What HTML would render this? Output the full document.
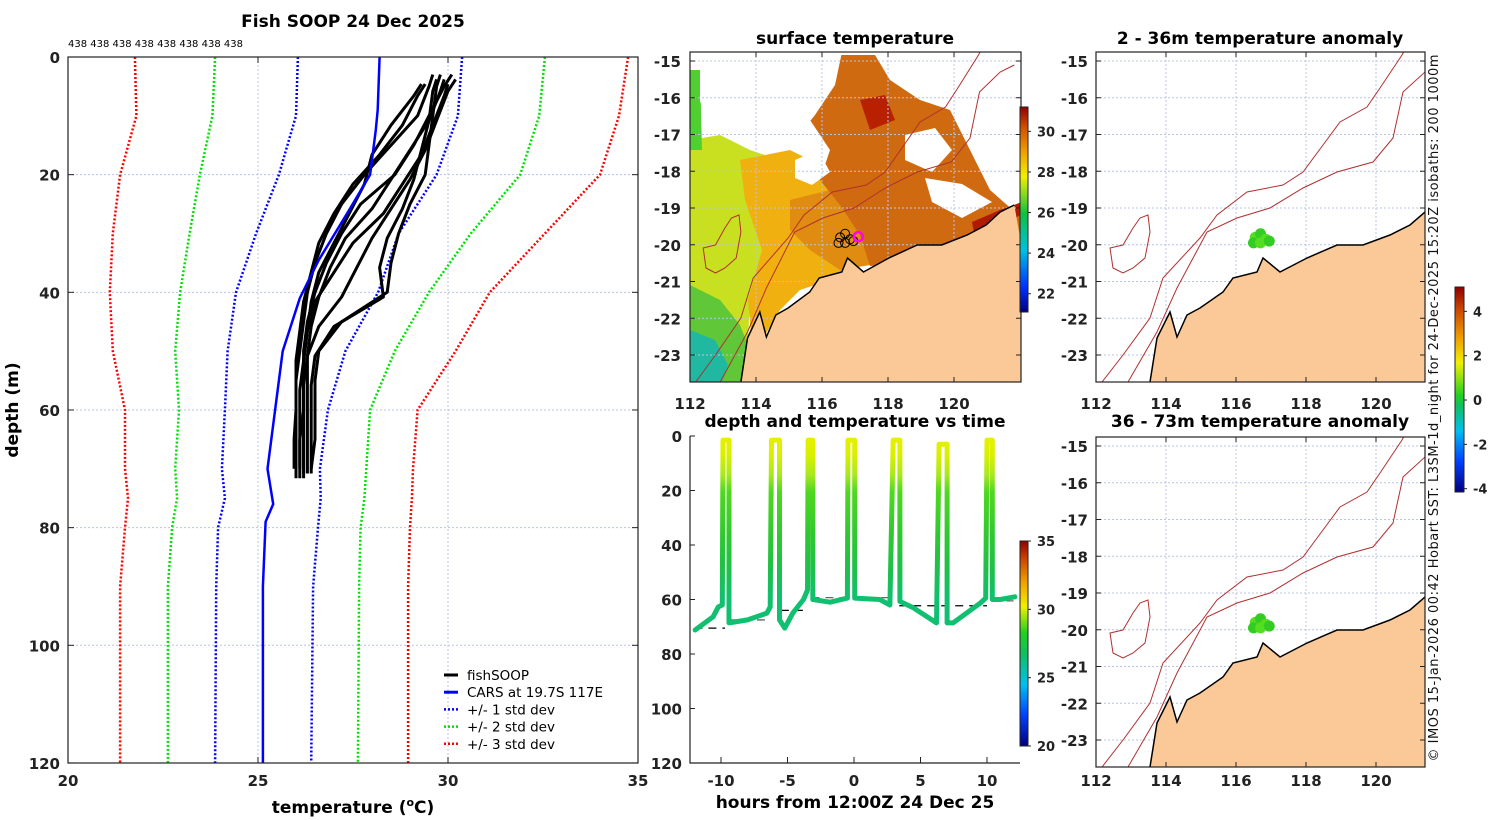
<!DOCTYPE html>
<html><head><meta charset="utf-8"><style>
body{margin:0;background:#fff}
svg{display:block;font-family:"DejaVu Sans","Liberation Sans",sans-serif}
.tk{font-size:15px;font-weight:bold;fill:#222}
.ttl{font-size:17px;font-weight:bold;fill:#000}
</style></head><body>
<svg id="fig" width="1500" height="820" viewBox="0 0 1500 820" xmlns="http://www.w3.org/2000/svg">
<defs>
<clipPath id="clL"><rect x="68" y="57" width="570" height="706"/></clipPath>
<clipPath id="clS"><rect x="690" y="52" width="331" height="330"/></clipPath>
<clipPath id="clA1"><rect x="1096" y="52" width="329" height="330"/></clipPath>
<clipPath id="clA2"><rect x="1096" y="437" width="329" height="330"/></clipPath>
<clipPath id="clT"><rect x="690" y="436" width="330" height="327"/></clipPath>
<linearGradient id="tsg" gradientUnits="userSpaceOnUse" x1="0" y1="436" x2="0" y2="763">
<stop offset="0" stop-color="#e8f000"/><stop offset="0.06" stop-color="#d8f000"/><stop offset="0.12" stop-color="#a8e820"/><stop offset="0.17" stop-color="#50d820"/><stop offset="0.3" stop-color="#30c830"/><stop offset="0.4" stop-color="#20c048"/><stop offset="0.5" stop-color="#10c070"/><stop offset="1" stop-color="#10c070"/>
</linearGradient>
<linearGradient id="cbS" x1="0" y1="1" x2="0" y2="0">
<stop offset="0" stop-color="#00007f"/><stop offset="0.12" stop-color="#0030ff"/><stop offset="0.3" stop-color="#00c0e0"/><stop offset="0.48" stop-color="#10c040"/><stop offset="0.66" stop-color="#f0f000"/><stop offset="0.78" stop-color="#f0a000"/><stop offset="0.9" stop-color="#d05000"/><stop offset="1" stop-color="#900000"/>
</linearGradient>
<linearGradient id="cbT" x1="0" y1="1" x2="0" y2="0">
<stop offset="0" stop-color="#00007f"/><stop offset="0.15" stop-color="#0040ff"/><stop offset="0.3" stop-color="#00c0f0"/><stop offset="0.45" stop-color="#10c060"/><stop offset="0.55" stop-color="#20d020"/><stop offset="0.68" stop-color="#f0f000"/><stop offset="0.8" stop-color="#f0a000"/><stop offset="0.92" stop-color="#c84000"/><stop offset="1" stop-color="#900000"/>
</linearGradient>
<linearGradient id="cbA" x1="0" y1="1" x2="0" y2="0">
<stop offset="0" stop-color="#00007f"/><stop offset="0.15" stop-color="#0040ff"/><stop offset="0.3" stop-color="#00c0f0"/><stop offset="0.42" stop-color="#10c060"/><stop offset="0.47" stop-color="#20d020"/><stop offset="0.63" stop-color="#f0f000"/><stop offset="0.75" stop-color="#f0a000"/><stop offset="0.9" stop-color="#c84000"/><stop offset="1" stop-color="#900000"/>
</linearGradient>
</defs>

<text class="ttl" x="353" y="27" text-anchor="middle">Fish SOOP 24 Dec 2025</text>
<text x="68" y="47" font-size="10" fill="#000">438 438 438 438 438 438 438 438</text>
<text class="ttl" x="855" y="44" text-anchor="middle">surface temperature</text>
<text class="ttl" x="855" y="427" text-anchor="middle">depth and temperature vs time</text>
<text class="ttl" x="1260" y="44" text-anchor="middle">2 - 36m temperature anomaly</text>
<text class="ttl" x="1260" y="427" text-anchor="middle">36 - 73m temperature anomaly</text>
<text x="353" y="813" text-anchor="middle" font-size="17" font-weight="bold">temperature (<tspan font-size="11" dy="-7">o</tspan><tspan dy="7">C)</tspan></text>
<text x="18" y="410" text-anchor="middle" font-size="17" font-weight="bold" transform="rotate(-90 18 410)">depth (m)</text>
<text x="855" y="808" text-anchor="middle" font-size="17" font-weight="bold">hours from 12:00Z 24 Dec 25</text>
<text x="1438" y="408" text-anchor="middle" font-size="13" fill="#111" transform="rotate(-90 1438 408)" textLength="707" lengthAdjust="spacing">© IMOS 15-Jan-2026 00:42 Hobart SST: L3SM-1d_night for 24-Dec-2025 15:20Z isobaths: 200  1000m</text>

<g id="gL"></g>
<g id="gS"></g>
<g id="gT"></g>
<g id="gA1"></g>
<g id="gA2"></g>
</svg>
<script>
// ---------- data ----------
const depthTicks=[0,20,40,60,80,100,120];
const tempTicks=[20,25,30,35];
const profDepths=[3,5,10,15,20,25,30,35,40,45,50,55,60,65,70];
const prof1=[29.6,29.5,29.2,28.5,27.8,27.2,26.8,26.5,26.3,26.2,26.1,26.0,26.0,25.95,25.95];
const prof2=[30.2,30.0,29.7,29.4,29.0,28.5,28.0,27.6,27.2,26.6,26.3,26.2,26.2,26.2,26.2];
const prof3=[30.0,29.9,29.6,29.3,28.8,28.3,27.5,27.0,26.5,26.3,26.2,26.1,26.1,26.1,26.1];
const prof4=[29.8,29.7,29.6,29.5,29.4,29.0,28.7,28.5,28.4,27.2,26.6,26.5,26.5,26.5,26.4];
const prof5=[29.9,29.8,29.5,29.0,28.5,28.0,27.3,26.9,26.6,26.4,26.3,26.3,26.3,26.3,26.3];
const prof6=[29.4,29.2,28.8,28.2,27.5,27.0,26.6,26.4,26.2,26.1,26.0,26.0,26.0,26.0,26.0];
const prof7=[30.1,29.9,29.5,29.1,28.6,27.7,27.2,26.8,26.5,26.3,26.2,26.2,26.2,26.1,26.1];
const prof8=[29.7,29.6,29.5,29.3,29.1,28.8,28.4,28.2,28.3,27.0,26.5,26.4,26.4,26.4,26.4];
const prof9=[29.3,29.1,28.5,28.0,27.8,27.4,27.0,26.6,26.4,26.3,26.2,26.2,26.2,26.2,26.2];
const carsDepths=[0,9,12.4,20,26,34.5,41,50,60,70,76,79,90,120];
const carsTemps=[28.2,28.15,28.1,27.95,27.4,26.6,26.1,25.65,25.45,25.25,25.4,25.2,25.13,25.13];
const sdDepths=[0,10,20,30,40,50,60,70,75,80,90,120];
const sdPlus1=[30.37,30.26,29.7,28.7,28.16,27.3,26.84,26.63,26.65,26.58,26.45,26.4];
const sdMinus1=[26.05,26.0,25.55,24.95,24.42,24.2,24.13,24.05,24.13,23.95,23.9,23.87];
const sdPlus2=[32.55,32.4,31.9,30.6,29.5,28.6,27.95,27.85,27.8,27.7,27.66,27.63];
const sdMinus2=[23.87,23.8,23.47,23.2,22.95,22.82,22.92,22.82,22.87,22.74,22.63,22.63];
const sdPlus3=[34.74,34.5,34.0,32.55,31.1,30.2,29.2,29.08,29.05,29.0,28.95,28.95];
const sdMinus3=[21.76,21.8,21.37,21.18,21.1,21.18,21.5,21.5,21.58,21.5,21.37,21.37];

const hourTicks=[-10,-5,0,5,10];
const tsDepthTicks=[0,20,40,60,80,100,120];
const trackHours=[-11.95,-10.6,-10.2,-9.9,-9.85,-9.4,-9.4,-8.0,-6.55,-6.3,-6.2,-5.6,-5.6,-5.2,-4.6,-3.8,-3.5,-3.45,-3.1,-3.1,-1.8,-0.5,-0.45,0.05,0.05,1.95,2.7,2.95,3.45,3.45,4.45,6.2,6.4,7.0,7.0,7.45,9.5,9.9,10.0,10.4,10.4,11.0,12.1];
const trackDepths=[71.2,66.4,62.7,62.0,1.5,1.5,68.6,67.5,65,62.7,1.5,1.5,67.5,70.5,65,60,56.5,1.5,1.5,60,61,59.5,1.5,1.5,59.5,60,62,1.5,1.5,60.7,63,68.6,3,3,68.6,68.6,61.3,59.5,1.5,1.5,60,60,59];
const bottomStart=[-12,-9.4,-5.5,-3.2,3.4,10.4];
const bottomEnd=[-9.7,-6.3,-3.7,2.8,10.0,12];
const bottomDepth=[70.5,67.5,64,59.3,62.3,60.5];

const latTicks=[-15,-16,-17,-18,-19,-20,-21,-22,-23];
const lonTicks=[112,114,116,118,120];
const sstTicks=[22,24,26,28,30];
const tsTempTicks=[20,25,30,35];
const anomTicks=[-4,-2,0,2,4];
const fishLon=[116.55,116.7,116.85,116.5,116.7,116.95];
const fishLat=[-19.8,-19.7,-19.85,-19.95,-19.95,-19.9];

// coastline & isobaths (lon/lat)
function rp(x,y){return [112+(x-1096)/35, -15-(y-61)/36.75];}
const coast=[[1150,382],[1157,338],[1170,312],[1177,337],[1187,315],[1200,308],[1223,292],[1233,278],[1257,272],[1263,258],[1280,272],[1307,258],[1337,245],[1363,245],[1390,235],[1410,225],[1425,212],[1440,205]].map(p=>rp(p[0],p[1]));
const iso1000=[[1102,382],[1123,355],[1150,318],[1163,278],[1200,238],[1217,215],[1247,192],[1283,185],[1303,172],[1323,145],[1340,122],[1367,107],[1380,88],[1402,55],[1410,40]].map(p=>rp(p[0],p[1]));
const iso200=[[1128,382],[1157,332],[1177,288],[1207,232],[1237,218],[1270,208],[1303,188],[1337,172],[1373,162],[1393,138],[1403,92],[1425,72],[1440,65]].map(p=>rp(p[0],p[1]));
const island=[[1148,215],[1150,232],[1145,258],[1133,268],[1123,273],[1113,268],[1110,248],[1123,245],[1133,228],[1140,218]].map(p=>rp(p[0],p[1]));

// ---------- helpers ----------
const NS="http://www.w3.org/2000/svg";
function el(tag,attrs,parent){const e=document.createElementNS(NS,tag);for(const k in attrs)e.setAttribute(k,attrs[k]);parent.appendChild(e);return e;}
function txt(s,attrs,parent){const e=el('text',attrs,parent);e.textContent=s;return e;}
function pts(a){return a.map(p=>p[0].toFixed(1)+','+p[1].toFixed(1)).join(' ');}

// ---------- left profile panel ----------
const gL=document.getElementById('gL');
const xT=t=>68+(t-20)*38, yD=d=>57+d*5.883;
depthTicks.forEach(d=>{
  const g=el('line',{x1:68,x2:638,y1:yD(d),y2:yD(d),stroke:'#b8c4e6','stroke-width':1,'stroke-dasharray':'2,2'},gL);
  
  
  const t=txt(d,{x:60,y:yD(d)+6,'text-anchor':'end',class:'tk'},gL);
  
  
  el('line',{x1:68,x2:74,y1:yD(d),y2:yD(d),stroke:'#222'},gL);
  el('line',{x1:632,x2:638,y1:yD(d),y2:yD(d),stroke:'#222'},gL);
});
tempTicks.forEach(t=>{
  const g=el('line',{x1:xT(t),x2:xT(t),y1:57,y2:763,stroke:'#b8c4e6','stroke-width':1,'stroke-dasharray':'2,2'},gL);
  
  
  const l=txt(t,{x:xT(t),y:786,'text-anchor':'middle',class:'tk'},gL);
  
  
  el('line',{x1:xT(t),x2:xT(t),y1:57,y2:63,stroke:'#222'},gL);
  el('line',{x1:xT(t),x2:xT(t),y1:757,y2:763,stroke:'#222'},gL);
});
const gLc=el('g',{'clip-path':'url(#clL)'},gL);
function sdLine(temps,color,name){
  const p=el('polyline',{points:pts(sdDepths.map((d,i)=>[xT(temps[i]),yD(d)])),fill:'none',stroke:color,'stroke-width':2.5,'stroke-dasharray':'2,2'},gLc);
  
  
}
sdLine(sdMinus3,'#ff0000','minus-3-std-line');
sdLine(sdPlus3,'#ff0000','plus-3-std-line');
sdLine(sdMinus2,'#00e000','minus-2-std-line');
sdLine(sdPlus2,'#00e000','plus-2-std-line');
sdLine(sdMinus1,'#0000ff','minus-1-std-line');
sdLine(sdPlus1,'#0000ff','plus-1-std-line');
[prof1,prof2,prof3,prof4,prof5,prof6,prof7,prof8,prof9].forEach((pr,k)=>{
  const p=el('polyline',{points:pts(profDepths.map((d,i)=>[xT(pr[i]),yD(d+(k%3)*0.8)])),fill:'none',stroke:'#000','stroke-width':3,'stroke-linejoin':'round'},gLc);
  
  
});
const cars=el('polyline',{points:pts(carsDepths.map((d,i)=>[xT(carsTemps[i]),yD(d)])),fill:'none',stroke:'#0000ff','stroke-width':2.5},gLc);


const frL=el('rect',{x:68,y:57,width:570,height:706,fill:'none',stroke:'#222','stroke-width':1.2},gL);


// legend
const leg=el('g',{},gL);


const legItems=[['fishSOOP','#000',''],['CARS at 19.7S 117E','#0000ff',''],['+/- 1 std dev','#0000ff','2,2'],['+/- 2 std dev','#00e000','2,2'],['+/- 3 std dev','#ff0000','2,2']];
legItems.forEach((it,i)=>{
  const y=675+i*17.2;
  const s=el('line',{x1:444,x2:458,y1:y,y2:y,stroke:it[1],'stroke-width':it[2]?2.5:3,'stroke-dasharray':it[2]||'none'},leg);
  
  
  const t=txt(it[0],{x:467,y:y+5,'font-size':13.5,fill:'#000'},leg);
  
  
});

// ---------- map drawing ----------
function drawMap(g,proj,x0,y0,w,h,clip,drawExtras){
  const gc=el('g',{'clip-path':'url(#'+clip+')'},g);
  el('rect',{x:x0,y:y0,width:w,height:h,fill:'#fff'},gc);
  if(drawExtras) drawExtras(gc);
  // grid
  latTicks.forEach(la=>{const y=proj(112,la)[1];el('line',{x1:x0,x2:x0+w,y1:y,y2:y,stroke:'#b8c4e6','stroke-dasharray':'2,2'},gc);});
  lonTicks.forEach(lo=>{const x=proj(lo,-15)[0];el('line',{x1:x,x2:x,y1:y0,y2:y0+h,stroke:'#b8c4e6','stroke-dasharray':'2,2'},gc);});
  const landPts=coast.map(p=>proj(p[0],p[1]));
  landPts.push([x0+w+30,y0+h+30]);landPts.push([landPts[0][0],y0+h+30]);
  const land=el('polygon',{points:pts(landPts),fill:'#fbc998',stroke:'none'},gc);
  
  
  const cl=el('polyline',{points:pts(coast.map(p=>proj(p[0],p[1]))),fill:'none',stroke:'#000','stroke-width':1.5},gc);
  
  
  [iso1000,iso200].forEach(iso=>{
    const p=el('polyline',{points:pts(iso.map(q=>proj(q[0],q[1]))),fill:'none',stroke:'#b03030','stroke-width':1},gc);
    
    
  });
  const isl=el('polygon',{points:pts(island.map(q=>proj(q[0],q[1]))),fill:'none',stroke:'#b03030','stroke-width':1},gc);
  
  
  return gc;
}
function mapAxes(g,proj,x0,y0,w,h,lx,ly){
  latTicks.forEach(la=>{const y=proj(112,la)[1];
    const t=txt(la,{x:lx,y:y+6,'text-anchor':'end',class:'tk'},g);
    
    
    el('line',{x1:x0,x2:x0+5,y1:y,y2:y,stroke:'#222'},g);el('line',{x1:x0+w-5,x2:x0+w,y1:y,y2:y,stroke:'#222'},g);});
  lonTicks.forEach(lo=>{const x=proj(lo,-15)[0];
    const t=txt(lo,{x:x,y:ly,'text-anchor':'middle',class:'tk'},g);
    
    
    el('line',{x1:x,x2:x,y1:y0,y2:y0+5,stroke:'#222'},g);el('line',{x1:x,x2:x,y1:y0+h-5,y2:y0+h,stroke:'#222'},g);});
  const f=el('rect',{x:x0,y:y0,width:w,height:h,fill:'none',stroke:'#222','stroke-width':1.2},g);
  
  
}
function colorbar(g,x,y,w,h,grad,vmin,vmax,ticks,name){
  const r=el('rect',{x:x,y:y,width:w,height:h,fill:'url(#'+grad+')',stroke:'#222','stroke-width':1},g);
  
  
  ticks.forEach(v=>{const yy=y+h-(v-vmin)/(vmax-vmin)*h;
    el('line',{x1:x+w,x2:x+w+3,y1:yy,y2:yy,stroke:'#222'},g);
    const t=txt(v,{x:x+w+9,y:yy+5,'font-size':13,'font-weight':'bold',fill:'#222'},g);
    
    });
}

// SST map
const gS=document.getElementById('gS');
const pm=(lo,la)=>[690+(lo-112)*33, 61+(-15-la)*36.75];
const sstLayers=[
 ['#c8e020','690,140 720,135 750,150 780,160 775,250 750,300 748,340 735,382 690,382'],
 ['#50d030','690,70 700,70 702,150 690,150'],
 ['#60c838','690,285 720,300 740,325 750,350 752,382 690,382'],
 ['#20b8a0','690,330 715,340 728,365 722,382 690,382'],
 ['#f0b010','740,160 790,150 830,170 850,190 870,215 880,240 860,265 830,280 800,290 780,310 765,335 760,360 752,345 748,300 762,250 745,200'],
 ['#e08c10','790,200 830,190 860,210 880,240 870,265 840,270 810,250 790,230'],
 ['#d06a10','840,55 875,55 890,80 920,100 950,110 960,130 990,190 1015,212 1022,210 1022,245 980,238 940,252 900,264 870,266 860,235 840,205 820,180 830,150 810,120 830,90'],
 ['#ffffff','700,52 842,52 835,85 815,115 795,140 762,148 730,132 700,102'],
 ['#ffffff','905,135 935,128 952,150 932,172 905,160'],
 ['#ffffff','925,178 962,184 992,202 962,218 932,202'],
 ['#ffffff','1000,52 1022,52 1022,140 1005,120 995,80'],
 ['#ffffff','795,160 818,150 830,172 812,185 795,178'],
 ['#b01a00','972,222 1000,210 1022,202 1022,214 992,232 975,238'],
 ['#b82000','860,100 885,95 895,120 870,130']
];
const gSc=drawMap(gS,pm,690,52,331,330,'clS',gc=>{
  sstLayers.forEach(l=>{const p=el('polygon',{points:l[1],fill:l[0]},gc);
    
    });
});
fishLon.forEach((lo,i)=>{const p=pm(lo,fishLat[i]);
  const c=el('circle',{cx:p[0],cy:p[1],r:4.5,fill:'none',stroke:'#000','stroke-width':1},gSc);
  
  });
const mg=pm(117.1,-19.78);
const mc=el('circle',{cx:mg[0],cy:mg[1],r:4.5,fill:'none',stroke:'#ff00ff','stroke-width':2.5},gSc);


mapAxes(gS,pm,690,52,331,330,681,409);
colorbar(gS,1020,107,8,205,'cbS',21.1,31.2,sstTicks,'sst-colorbar');

// anomaly maps
function anomMap(id,y0,fy,ly){
  const g=document.getElementById(id);
  const pr=(lo,la)=>[1096+(lo-112)*35, y0+(-15-la)*36.75];
  const gc=drawMap(g,pr,1096,fy,329,330,id==='gA1'?'clA1':'clA2');
  fishLon.forEach((lo,i)=>{const p=pr(lo,fishLat[i]);
    const c=el('circle',{cx:p[0],cy:p[1],r:5.5,fill:i%2?'#33cc22':'#55dd22'},gc);
    
    });
  mapAxes(g,pr,1096,fy,329,330,1088,ly);
}
anomMap('gA1',61,52,409);
anomMap('gA2',446,437,786);
colorbar(document.getElementById('gA2'),1455,287,9,205,'cbA',-4.15,5.1,anomTicks,'anomaly-colorbar');

// time series
const gT=document.getElementById('gT');
const xH=h=>854+h*13.3, yTD=d=>436+d*(327/120);
tsDepthTicks.forEach(d=>{
  const t=txt(d,{x:682,y:yTD(d)+6,'text-anchor':'end',class:'tk'},gT);
  
  
  el('line',{x1:690,x2:695,y1:yTD(d),y2:yTD(d),stroke:'#222'},gT);});
hourTicks.forEach(h=>{
  const t=txt(h,{x:xH(h),y:786,'text-anchor':'middle',class:'tk'},gT);
  
  
  el('line',{x1:xH(h),x2:xH(h),y1:757,y2:763,stroke:'#222'},gT);});
const gTc=el('g',{'clip-path':'url(#clT)'},gT);
bottomStart.forEach((s,i)=>{
  const l=el('line',{x1:xH(s),x2:xH(bottomEnd[i]),y1:yTD(bottomDepth[i]),y2:yTD(bottomDepth[i]),stroke:i%2?'#666':'#000','stroke-width':1.3,'stroke-dasharray':'8,6'},gTc);
  
  });
const trk=el('polyline',{points:pts(trackHours.map((h,i)=>[xH(h),yTD(trackDepths[i])])),fill:'none',stroke:'url(#tsg)','stroke-width':5,'stroke-linejoin':'round','stroke-linecap':'round'},gTc);


const axT=el('path',{d:'M690,436 V763 H1020',fill:'none',stroke:'#222','stroke-width':1.2},gT);


colorbar(gT,1020,541,8,205,'cbT',20,35,tsTempTicks,'temperature-colorbar');
</script>
</body></html>
